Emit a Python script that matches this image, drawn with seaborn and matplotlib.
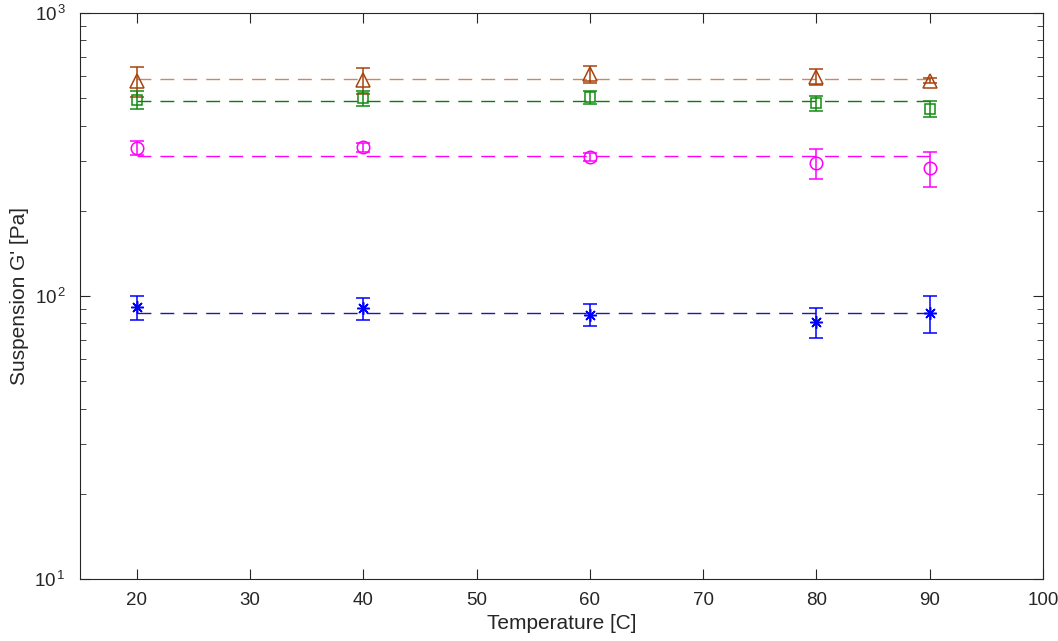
import numpy as np
import pandas as pd
import matplotlib
matplotlib.use("Agg")
import matplotlib.pyplot as plt
import seaborn as sns
from matplotlib.ticker import LogLocator, NullFormatter, FuncFormatter

# data
temperature = [20, 40, 60, 80, 90]

g_tri = [575, 578, 609, 594, 577]
g_tri_err = [69, 62, 42, 38, 10]

g_sq = [493, 500, 505, 480, 458]
g_sq_err = [36, 32, 27, 28, 30]

g_circ = [334, 335, 310, 295, 283]
g_circ_err = [19, 13, 10, 35, 40]

g_star = [91.3, 90.5, 85.9, 81.0, 87.0]
g_star_err = [9, 8, 7.7, 9.7, 13]

x_ticks = [20, 30, 40, 50, 60, 70, 80, 90, 100]

sns.set_style("ticks")
plt.rcParams['font.family'] = ['Liberation Sans', 'DejaVu Sans']
plt.rcParams['mathtext.fontset'] = 'custom'
plt.rcParams['mathtext.rm'] = 'Liberation Sans'
plt.rcParams['mathtext.it'] = 'Liberation Sans'

fig = plt.figure(figsize=(10.58, 6.41), dpi=100)
ax = fig.add_axes([0.0756, 0.0967, 0.9102, 0.883])

# asterisk marker like matlab '*': 8-armed
asterisk = (8, 2, 0)

series = [
    (g_tri, g_tri_err, '^', '#a8420c', '#c98a62', 10),
    (g_sq, g_sq_err, 's', '#118a11', '#0f7a0f', 7),
    (g_circ, g_circ_err, 'o', '#ff00ff', '#ff00ff', 9),
    (g_star, g_star_err, asterisk, '#0000ff', '#1a1ab0', 9),
]

for vals, errs, marker, color, line_color, ms in series:
    mean_df = pd.DataFrame({'T': [temperature[0], temperature[-1]],
                            'G': [np.mean(vals)] * 2})
    sns.lineplot(data=mean_df, x='T', y='G', ax=ax, color=line_color,
                 linewidth=1, dashes=False, zorder=1)
    ax.lines[-1].set_dashes((10, 6.5))
    ax.errorbar(temperature, vals, yerr=errs, fmt='none', ecolor=color,
                elinewidth=1.1, capsize=5, capthick=1.1, zorder=3)
    ax.plot(temperature, vals, linestyle='none', marker=marker,
            mfc='none', mec=color, ms=ms, mew=1.1, zorder=4)

ax.set_yscale('log')
ax.set_ylim(10, 1000)
ax.set_xlim(15, 100)
ax.set_xticks(x_ticks)
ax.yaxis.set_major_locator(LogLocator(base=10, numticks=5))
ax.yaxis.set_major_formatter(FuncFormatter(
    lambda v, p: r'$10^{\,%d}$' % round(np.log10(v))))
ax.yaxis.set_minor_locator(LogLocator(base=10, subs=np.arange(2, 10), numticks=10))
ax.yaxis.set_minor_formatter(NullFormatter())

for s in ax.spines.values():
    s.set_visible(True)
    s.set_color('#262626')
    s.set_linewidth(0.8)

ax.tick_params(which='both', direction='in', top=True, right=True,
               colors='#262626', labelsize=13.5)
ax.tick_params(which='major', length=7)
ax.tick_params(which='minor', length=4)
ax.tick_params(axis='x', pad=9)
ax.tick_params(axis='y', pad=10)

ax.set_xlabel('Temperature [C]', fontsize=15, color='#262626', labelpad=4)
ax.set_ylabel("Suspension G' [Pa]", fontsize=15, color='#262626', labelpad=4)

fig.savefig('out.png', dpi=100)
